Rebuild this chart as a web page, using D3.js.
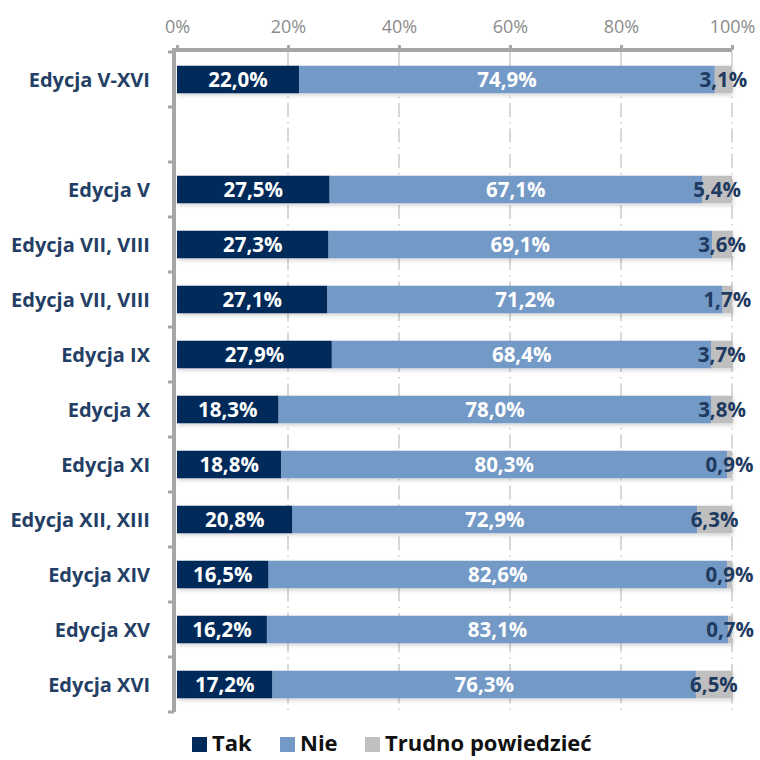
<!DOCTYPE html>
<html>
<head>
<meta charset="utf-8">
<script src="https://cdn.jsdelivr.net/npm/d3@7"></script>
<style>
  body { margin: 0; background: #fff; }
  svg { display: block; font-family: "Open Sans", sans-serif; }
</style>
</head>
<body>
<div id="chart"></div>
<script>
// categories top to bottom, '' is the empty spacer row
const categories = ['Edycja V-XVI', '', 'Edycja V', 'Edycja VII, VIII', 'Edycja VII, VIII', 'Edycja IX',
  'Edycja X', 'Edycja XI', 'Edycja XII, XIII', 'Edycja XIV', 'Edycja XV', 'Edycja XVI']
const tak = [22.0, null, 27.5, 27.3, 27.1, 27.9, 18.3, 18.8, 20.8, 16.5, 16.2, 17.2]
const nie = [74.9, null, 67.1, 69.1, 71.2, 68.4, 78.0, 80.3, 72.9, 82.6, 83.1, 76.3]
const trudno = [3.1, null, 5.4, 3.6, 1.7, 3.7, 3.8, 0.9, 6.3, 0.9, 0.7, 6.5]
const seriesNames = ['Tak', 'Nie', 'Trudno powiedzieć']
const xTicks = [0, 20, 40, 60, 80, 100]

const colors = ['#002a5a', '#7399c6', '#bfbfbf']
const labelColors = ['#fff', '#fff', '#1f3a60']

const width = 760, height = 760
const margin = {top: 52, right: 28, bottom: 48, left: 177}
const w = width - margin.left - margin.right
const h = height - margin.top - margin.bottom

const svg = d3.select('#chart').append('svg')
  .attr('width', width)
  .attr('height', height)

const defs = svg.append('defs')
const f = defs.append('filter').attr('id', 'shadow')
  .attr('x', '-5%').attr('y', '-30%').attr('width', '110%').attr('height', '170%')
f.append('feDropShadow').attr('dx', 1).attr('dy', 2).attr('stdDeviation', 2)
  .attr('flood-color', '#000').attr('flood-opacity', 0.18)

const g = svg.append('g')
  .attr('transform', 'translate(' + margin.left + ',' + margin.top + ')')

const x = d3.scaleLinear().domain([0, 100]).range([0, w])
const y = d3.scaleBand().domain(d3.range(categories.length)).range([0, h])
  .paddingInner(0.5).paddingOuter(0.25)

// gridlines
g.append('g').selectAll('line')
  .data(xTicks.slice(1))
  .join('line')
  .attr('x1', d => x(d)).attr('x2', d => x(d))
  .attr('y1', 0).attr('y2', h)
  .attr('stroke', '#c4c4c4')
  .attr('stroke-width', 1.3)
  .attr('stroke-dasharray', '14,5,1.5,5')

// stacked data
const rows = categories.map((c, i) => ({i, vals: [tak[i], nie[i], trudno[i]]}))
  .filter(r => r.vals[0] != null)

const segs = []
rows.forEach(r => {
  let acc = 0
  r.vals.forEach((v, s) => {
    segs.push({i: r.i, s, x0: acc, x1: acc + v, v})
    acc += v
  })
})

g.append('g').attr('filter', 'url(#shadow)')
  .selectAll('rect')
  .data(segs)
  .join('rect')
  .attr('x', d => x(d.x0))
  .attr('width', d => x(d.x1) - x(d.x0))
  .attr('y', d => y(d.i))
  .attr('height', y.bandwidth())
  .attr('fill', d => colors[d.s])

g.append('g').selectAll('text')
  .data(segs)
  .join('text')
  .attr('x', d => x((d.x0 + d.x1) / 2))
  .attr('y', d => y(d.i) + y.bandwidth() / 2)
  .attr('dy', '0.36em')
  .attr('text-anchor', 'middle')
  .attr('fill', d => labelColors[d.s])
  .attr('font-size', 20.5)
  .attr('font-weight', 'bold')
  .text(d => d.v.toFixed(1).replace('.', ',') + '%')

// top axis
const xAxis = g.append('g')
  .attr('transform', 'translate(0,-2)')
  .call(d3.axisTop(x).tickValues(xTicks).tickFormat(d => d + '%').tickSize(5).tickPadding(12))
xAxis.select('.domain').attr('stroke', '#a6a6a6').attr('stroke-width', 4)
  .attr('d', 'M-5,0H' + w)
xAxis.selectAll('.tick line').attr('stroke', '#a6a6a6').attr('stroke-width', 3)
xAxis.selectAll('.tick text').attr('fill', '#8c8c8c').attr('font-size', 18)
  .attr('font-family', '"Open Sans", sans-serif')

// left axis
const yAxis = g.append('g')
  .attr('transform', 'translate(-3,0)')
yAxis.append('line')
  .attr('x1', 0).attr('x2', 0).attr('y1', -4).attr('y2', h)
  .attr('stroke', '#a6a6a6').attr('stroke-width', 4)
yAxis.selectAll('line.tk')
  .data(d3.range(categories.length + 1))
  .join('line')
  .attr('class', 'tk')
  .attr('x1', -6).attr('x2', 0)
  .attr('y1', d => d * y.step()).attr('y2', d => d * y.step())
  .attr('stroke', '#a6a6a6').attr('stroke-width', 3)

g.append('g').selectAll('text')
  .data(categories.map((c, i) => ({c, i})).filter(d => d.c))
  .join('text')
  .attr('x', -27)
  .attr('y', d => y(d.i) + y.bandwidth() / 2)
  .attr('dy', '0.36em')
  .attr('text-anchor', 'end')
  .attr('fill', '#243f66')
  .attr('font-size', 20)
  .attr('font-weight', 'bold')
  .text(d => d.c)

// legend
const legendX = [192, 280, 365]
const legend = svg.append('g').attr('transform', 'translate(0,743)')
const items = legend.selectAll('g')
  .data(seriesNames)
  .join('g')
  .attr('transform', (d, i) => 'translate(' + legendX[i] + ',0)')
items.append('rect')
  .attr('x', 0).attr('y', -6).attr('width', 15).attr('height', 15)
  .attr('fill', (d, i) => colors[i])
items.append('text')
  .attr('x', 20).attr('y', 0).attr('dy', '0.36em')
  .attr('font-size', 22).attr('font-weight', 'bold').attr('fill', '#111')
  .text(d => d)
</script>
</body>
</html>
